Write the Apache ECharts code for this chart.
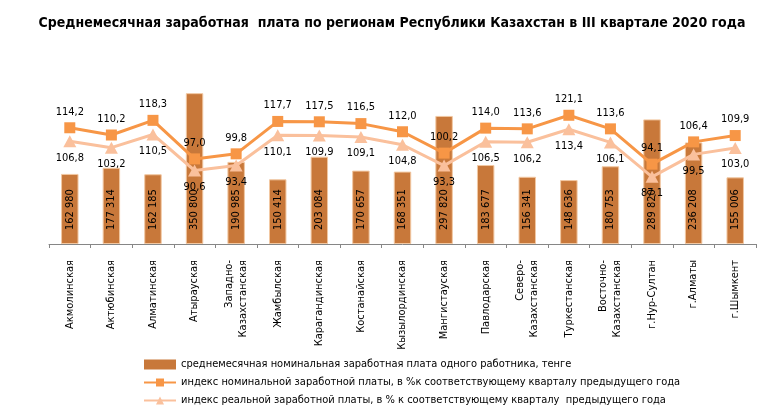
<!DOCTYPE html>
<html>
<head>
<meta charset="utf-8">
<script src="https://cdn.jsdelivr.net/npm/echarts@6/dist/echarts.min.js"></script>
<style>
html,body{margin:0;padding:0;background:#fff;}
#c{width:784px;height:417px;}
</style>
</head>
<body>
<div id="c"></div>
<script>
var categories = ['Акмолинская','Актюбинская','Алматинская','Атырауская','Западно-\nКазахстанская','Жамбылская','Карагандинская','Костанайская','Кызылординская','Мангистауская','Павлодарская','Северо-\nКазахстанская','Туркестанская','Восточно-\nКазахстанская','г.Нур-Султан','г.Алматы','г.Шымкент'];
var wages = [162980,177314,162185,350800,190985,150414,203084,170657,168351,297820,183677,156341,148636,180753,289820,236208,155006];
var nominalIndex = [114.2,110.2,118.3,97.0,99.8,117.7,117.5,116.5,112.0,100.2,114.0,113.6,121.1,113.6,94.1,106.4,109.9];
var realIndex = [106.8,103.2,110.5,90.6,93.4,110.1,109.9,109.1,104.8,93.3,106.5,106.2,113.4,106.1,87.1,99.5,103.0];

var FONT = '"DejaVu Sans Condensed", "DejaVu Sans", sans-serif';
function fmtInt(v){ return String(v).replace(/\B(?=(\d{3})+(?!\d))/g,' '); }
function fmtDec(v){ return v.toFixed(1).replace('.',','); }

var chart = echarts.init(document.getElementById('c'));
chart.setOption({
  animation:false,
  title:{
    text:'Среднемесячная заработная  плата по регионам Республики Казахстан в III квартале 2020 года',
    left:'center', top:11,
    textStyle:{fontFamily:FONT,fontSize:14,fontWeight:'bold',color:'#000'}
  },
  grid:{left:49,right:28,top:72,bottom:173},
  legend:{
    orient:'vertical', left:138, top:354, itemGap:7, itemWidth:32, itemHeight:10,
    lineStyle:{width:2},
    textStyle:{fontFamily:FONT,fontSize:11,color:'#000'},
    data:[
      {name:'среднемесячная номинальная заработная плата одного работника, тенге', icon:'rect', itemStyle:{color:'#C8783A', borderWidth:0}},
      {name:'индекс номинальной заработной платы, в %к соответствующему кварталу предыдущего года'},
      {name:'индекс реальной заработной платы, в % к соответствующему кварталу  предыдущего года'}
    ]
  },
  xAxis:{
    type:'category', data:categories,
    axisLine:{lineStyle:{color:'#868686'}},
    axisTick:{show:true, length:4, lineStyle:{color:'#868686'}},
    axisLabel:{rotate:90, interval:0, fontFamily:FONT, fontSize:11, color:'#000', margin:16, lineHeight:14}
  },
  yAxis:[
    {type:'value', min:0, max:400000, show:false, splitLine:{show:false}},
    {type:'value', min:50, max:145, show:false, splitLine:{show:false}}
  ],
  series:[
    {
      name:'среднемесячная номинальная заработная плата одного работника, тенге',
      type:'bar', data:wages, barWidth:'42%', yAxisIndex:0,
      itemStyle:{color:'#C8783A', borderColor:'#F2C8A2', borderWidth:1},
      label:{show:true, position:'insideBottom', rotate:90, align:'left', verticalAlign:'middle', distance:14,
        fontFamily:FONT, fontSize:11, color:'#000', formatter:function(p){return fmtInt(p.value);}},
      z:1
    },
    {
      name:'индекс номинальной заработной платы, в %к соответствующему кварталу предыдущего года',
      type:'line', data:nominalIndex, yAxisIndex:1,
      symbol:'rect', symbolSize:11,
      lineStyle:{color:'#F79646', width:3}, itemStyle:{color:'#F79646'},
      label:{show:true, position:'top', distance:5, fontFamily:FONT, fontSize:11, color:'#000', formatter:function(p){return fmtDec(p.value);}},
      z:3
    },
    {
      name:'индекс реальной заработной платы, в % к соответствующему кварталу  предыдущего года',
      type:'line', data:realIndex, yAxisIndex:1,
      symbol:'triangle', symbolSize:[13,12],
      lineStyle:{color:'#FAC09C', width:3}, itemStyle:{color:'#FAC09C'},
      label:{show:true, position:'bottom', distance:5, fontFamily:FONT, fontSize:11, color:'#000', formatter:function(p){return fmtDec(p.value);}},
      z:2
    }
  ]
});
</script>
</body>
</html>
